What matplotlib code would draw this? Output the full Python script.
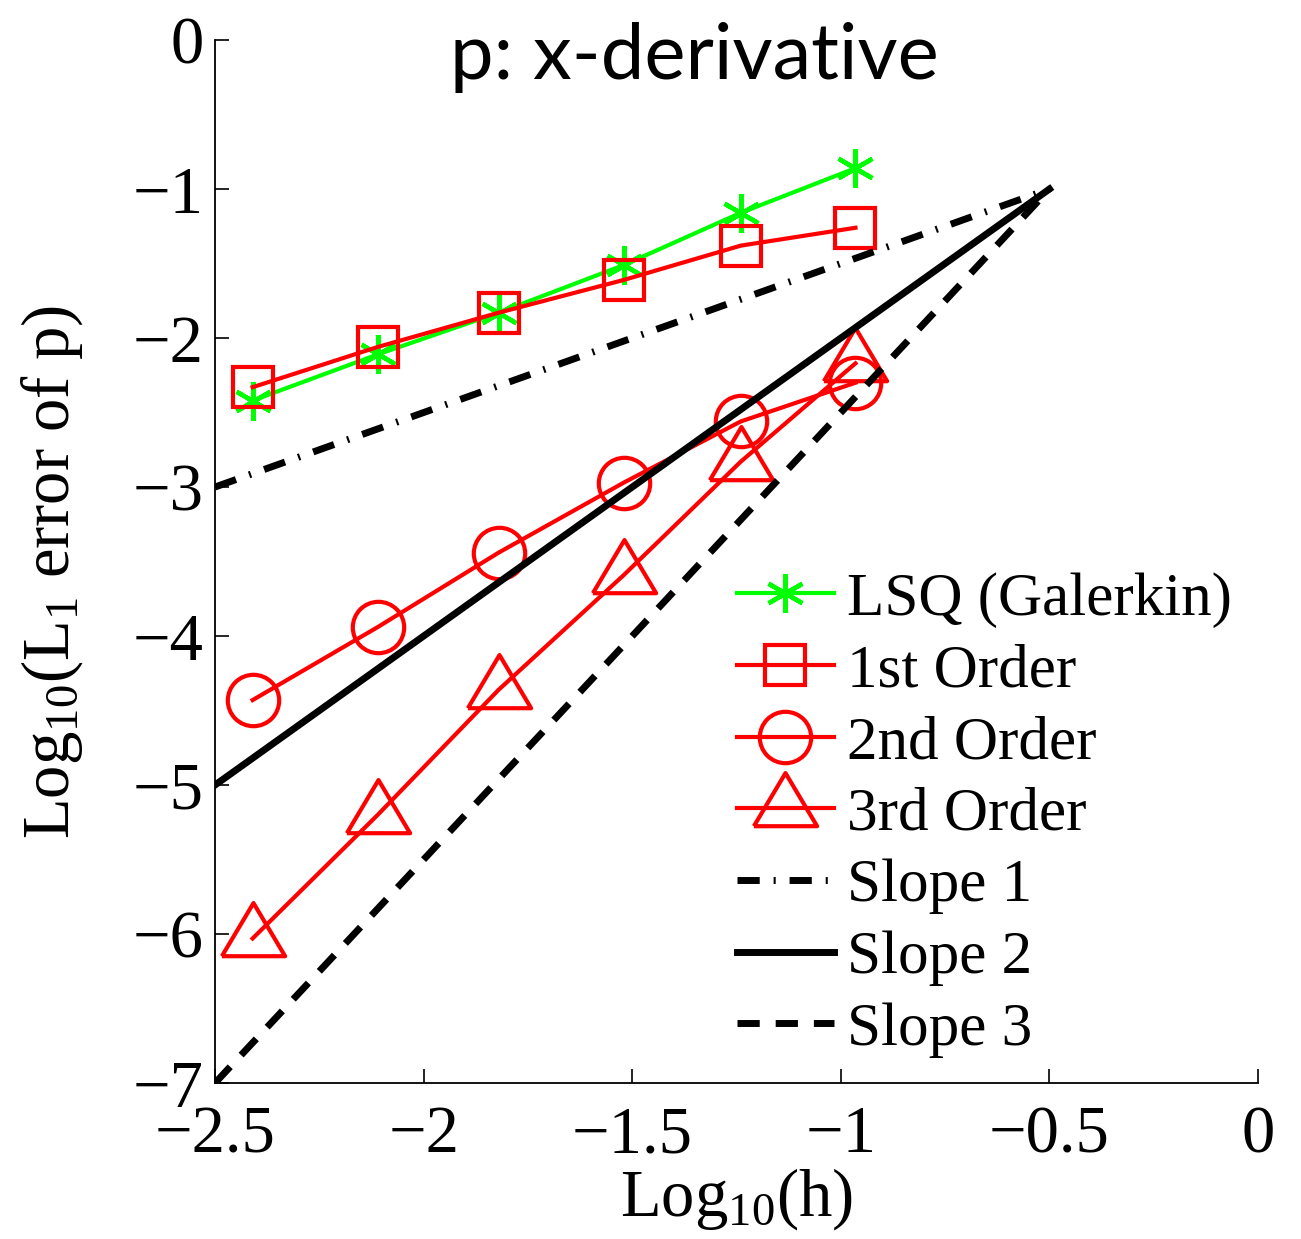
import matplotlib
matplotlib.use("Agg")
import matplotlib.pyplot as plt
from matplotlib import font_manager

# data
log_h = [-2.41, -2.11, -1.82, -1.52, -1.24, -0.965]
lsq = [-2.42, -2.11, -1.83, -1.51, -1.16, -0.86]
first = [-2.33, -2.06, -1.83, -1.61, -1.38, -1.26]
second = [-4.43, -3.94, -3.44, -2.97, -2.56, -2.30]
third = [-6.03, -5.20, -4.36, -3.59, -2.83, -2.17]

slope_x = [-2.5, -0.5]
slope1 = [-3, -1]
slope2 = [-5, -1]
slope3 = [-7, -1]

xticks = [-2.5, -2, -1.5, -1, -0.5, 0]
xticklabels = ['\u22122.5', '\u22122', '\u22121.5', '\u22121', '\u22120.5', '0']
yticks = [-7, -6, -5, -4, -3, -2, -1, 0]
yticklabels = ['\u22127', '\u22126', '\u22125', '\u22124', '\u22123', '\u22122', '\u22121', '0']

serif = 'Liberation Serif'
plt.rcParams['font.family'] = serif
plt.rcParams['mathtext.fontset'] = 'custom'
plt.rcParams['mathtext.rm'] = serif
plt.rcParams['mathtext.it'] = serif + ':italic'

# narrow sans for the title if there is one
title_font = 'Lato'
names = {f.name for f in font_manager.fontManager.ttflist}
if 'Liberation Sans Narrow' in names:
    title_font = 'Liberation Sans Narrow'

fig = plt.figure(figsize=(13.01, 12.39), dpi=100)
ax = fig.add_axes([0.1653, 0.1259, 0.8017, 0.8418])

# triangle centred on its centroid, closed
tri = [(-1, -0.56), (1, -0.56), (0, 1.12), (-1, -0.56)]

ax.plot(log_h, lsq, color=(0, 1, 0), lw=3, marker=(6, 2, 0), ms=28, mew=3.2,
        label='LSQ (Galerkin)')
ax.plot(log_h, first, color='red', lw=3, marker='s', ms=29, mew=3,
        mfc='none', label='1st Order')
ax.plot(log_h, second, color='red', lw=3, marker='o', ms=37, mew=3,
        mfc='none', label='2nd Order')
ax.plot(log_h, third, color='red', lw=3, marker=tri, ms=51, mew=3,
        mfc='none', label='3rd Order')
ax.plot(slope_x, slope1, color='black', lw=5, dashes=(3.2, 2.0, 0.3, 2.0),
        label='Slope 1')
ax.plot(slope_x, slope2, color='black', lw=5, label='Slope 2')
ax.plot(slope_x, slope3, color='black', lw=5, dashes=(3.2, 2.3),
        label='Slope 3')

ax.set_xlim(-2.5, 0)
ax.set_ylim(-7, 0)
ax.set_xticks(xticks)
ax.set_xticklabels(xticklabels)
ax.set_yticks(yticks)
ax.set_yticklabels(yticklabels)
ax.tick_params(direction='in', length=10, width=1.2, labelsize=48, pad=8)
ax.tick_params(axis='x', pad=16)
ax.spines['top'].set_visible(False)
ax.spines['right'].set_visible(False)
ax.spines['left'].set_linewidth(1.3)
ax.spines['bottom'].set_linewidth(1.3)

ax.set_xlabel(r'Log$_{10}$(h)', fontsize=48)
ax.xaxis.set_label_coords(0.5, -0.08)
ax.set_ylabel(r'Log$_{10}$(L$_1$ error of p)', fontsize=48)
ax.yaxis.set_label_coords(-0.125, 0.49)

ax.set_title('p: x-derivative', fontsize=56, family=title_font, x=0.46, y=0.955)

ax.legend(loc='upper left', bbox_to_anchor=(0.5, 0.49), frameon=False,
          fontsize=44, handlelength=1.6, handletextpad=0.2, labelspacing=0.26,
          borderaxespad=0, borderpad=0)

plt.savefig('out.png', dpi=100)
